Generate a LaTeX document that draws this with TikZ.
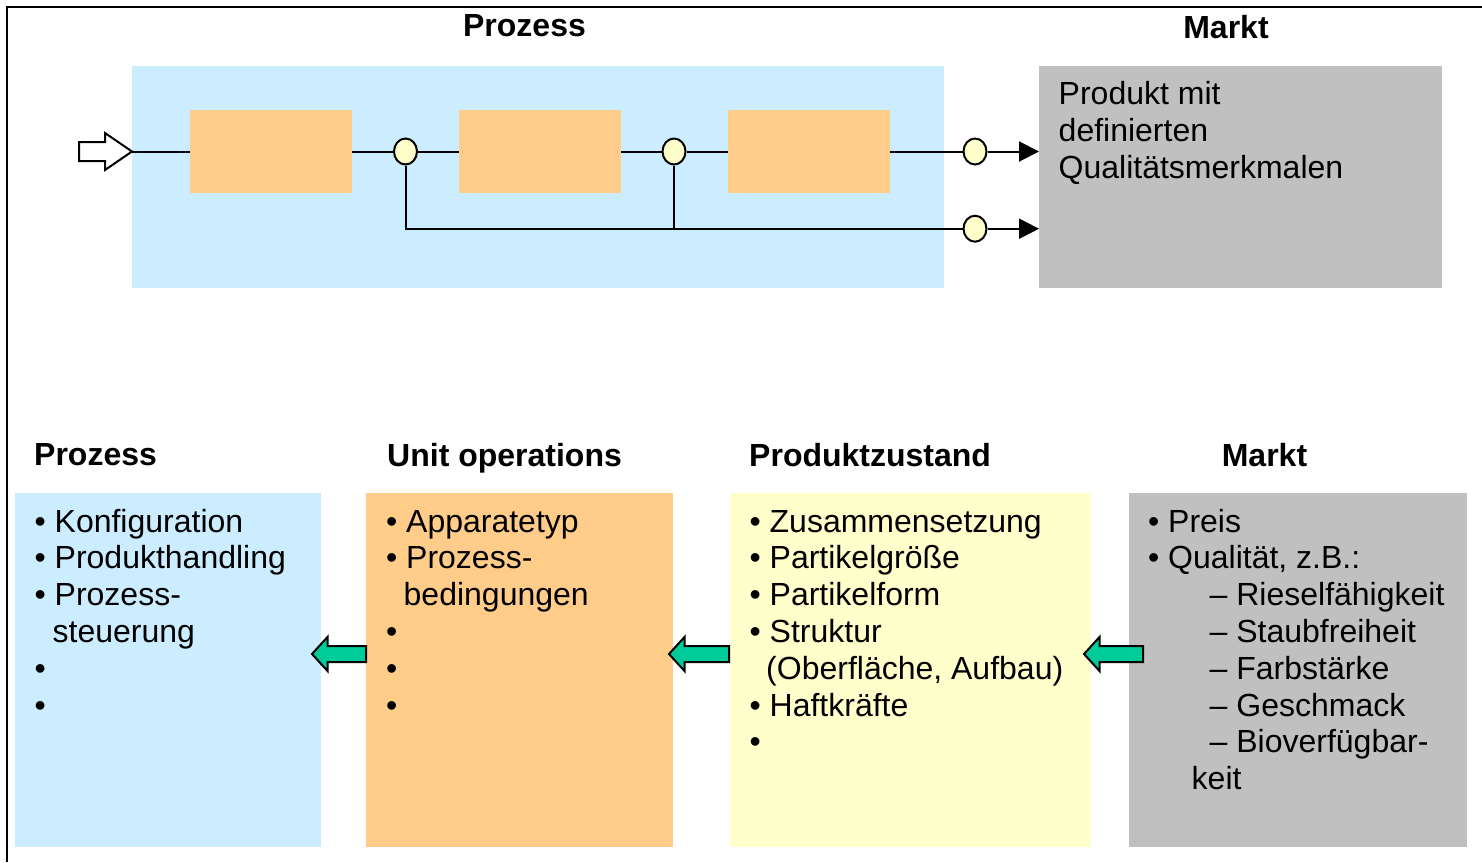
\documentclass[tikz,border=0pt]{standalone}
\usepackage{fontspec}
\setmainfont{Liberation Sans}
\usetikzlibrary{shapes.geometric,arrows.meta}
\definecolor{cblue}{HTML}{CCECFF}
\definecolor{corange}{HTML}{FFCC8A}
\definecolor{cyellow}{HTML}{FFFFCC}
\definecolor{cgray}{HTML}{C0C0C0}
\definecolor{cgreen}{HTML}{00CC99}
\newcommand\bul{\makebox[20pt][l]{\textbullet}}
\begin{document}
\begin{tikzpicture}[x=1pt,y=-1pt,
  box/.style={inner sep=0, outer sep=0, anchor=north west, draw=none},
  flow/.style={line width=2pt, black},
  circ/.style={ellipse, draw, line width=2pt, fill=cyellow, minimum width=23pt, minimum height=26pt, inner sep=0},
  txt/.style={font=\fontsize{32}{37}\selectfont, inner sep=0, anchor=base west},
  ttl/.style={font=\fontsize{32}{37}\selectfont\bfseries, inner sep=0, anchor=base west},
  garrow/.style={fill=cgreen, draw=black, line width=2pt, line join=miter},
  tip/.style={-{Triangle[length=20pt,width=20pt]}}]
\useasboundingbox (0,0) rectangle (1482,862);
% frame
\draw[line width=2pt] (7.3,862) -- (7.3,7.3) -- (1482,7.3);
% titles top
\node[ttl,anchor=base] (tP0) at (524.5,36) {Prozess};
\node[ttl,anchor=base] (tM0) at (1226,38) {Markt};
% top boxes
\node[box, fill=cblue, minimum width=812pt, minimum height=222pt] (proc) at (132,66) {};
\node[box, fill=cgray, minimum width=403pt, minimum height=222pt] (gm) at (1039,66) {};
\node[box, fill=corange, minimum width=162pt, minimum height=83pt] (p1) at (190,110) {};
\node[box, fill=corange, minimum width=162pt, minimum height=83pt] (p2) at (459,110) {};
\node[box, fill=corange, minimum width=162pt, minimum height=83pt] (p3) at (728,110) {};
\node[txt] (g1) at (1058.5,104) {Produkt mit};
\node[txt] (g2) at (1058.5,141) {definierten};
\node[txt] (g3) at (1058.5,178) {Qualitätsmerkmalen};
% circles
\node[circ] (c1) at (405.5,151.5) {};
\node[circ] (c2) at (674,151.5) {};
\node[circ] (c3) at (975,151.5) {};
\node[circ] (c4) at (975,228.7) {};
% input arrow
\draw[line width=2pt, fill=white, line join=miter] (79,142) -- (105,142) -- (105,133) -- (132,151.5) -- (105,170) -- (105,161) -- (79,161) -- cycle;
\coordinate (in) at (132,151.5);
% flow lines
\draw[flow] (in) -- (p1.west);
\draw[flow] (p1.east) -- (c1.west);
\draw[flow] (c1.east) -- (p2.west);
\draw[flow] (p2.east) -- (c2.west);
\draw[flow] (c2.east) -- (p3.west);
\draw[flow] (p3.east) -- (c3.west);
\draw[flow,tip] (c3.east) -- (c3.east -| gm.west);
\draw[flow] (c1.south) |- (c4.west);
\draw[flow] (c2.south) -- (c2.south |- c4.west);
\draw[flow,tip] (c4.east) -- (c4.east -| gm.west);
% bottom titles
\node[ttl] (tP) at (34,465) {Prozess};
\node[ttl] (tU) at (387,466) {Unit operations};
\node[ttl] (tZ) at (749,466) {Produktzustand};
\node[ttl,anchor=base] (tM) at (1264.5,466) {Markt};
% bottom boxes
\node[box, fill=cblue, minimum width=306pt, minimum height=354pt] (bP) at (15,493) {};
\node[box, fill=corange, minimum width=307pt, minimum height=354pt] (bU) at (366,493) {};
\node[box, fill=cyellow, minimum width=361pt, minimum height=354pt] (bZ) at (730,493) {};
\node[box, fill=cgray, minimum width=338pt, minimum height=354pt] (bM) at (1129,493) {};
% lists
\foreach \t [count=\i] in {{\bul Konfiguration},{\bul Produkthandling},{\bul Prozess-},{\hspace*{18pt}steuerung},{\bul},{\bul}}
  \node[txt] (lp\i) at (34.5,532+36.8*\i-36.8) {\t};
\foreach \t [count=\i] in {{\bul Apparatetyp},{\bul Prozess-},{\hspace*{17.5pt}bedingungen},{\bul},{\bul},{\bul}}
  \node[txt] (lu\i) at (386,532+36.8*\i-36.8) {\t};
\foreach \t [count=\i] in {{\bul Zusammensetzung},{\bul Partikelgröße},{\bul Partikelform},{\bul Struktur},{\hspace*{16.5pt}(Oberfläche, Aufbau)},{\bul Haftkräfte},{\bul}}
  \node[txt] (lz\i) at (749.5,532+36.8*\i-36.8) {\t};
\foreach \t [count=\i] in {{\bul Preis},{\bul Qualität, z.B.:},{\hspace*{61.5pt}– Rieselfähigkeit},{\hspace*{61.5pt}– Staubfreiheit},{\hspace*{61.5pt}– Farbstärke},{\hspace*{61.5pt}– Geschmack},{\hspace*{61.5pt}– Bioverfügbar-},{\hspace*{43.5pt}keit}}
  \node[txt] (lm\i) at (1148,532+36.8*\i-36.8) {\t};
% green arrows
\foreach \tx/\rx in {312/366, 669/729, 1084/1143}
  \draw[garrow] (\rx,646) -- (\tx+15.5,646) -- (\tx+15.5,637) -- (\tx,654) -- (\tx+15.5,671) -- (\tx+15.5,662) -- (\rx,662) -- cycle;
\end{tikzpicture}
\end{document}
